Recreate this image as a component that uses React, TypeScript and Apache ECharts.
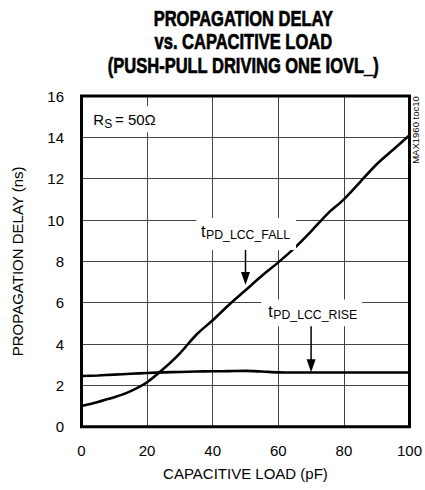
import React, { useEffect, useRef } from "react";
import * as echarts from "echarts";

const capLoad = [0, 5, 10, 15, 20, 25, 30, 35, 40, 45, 50, 55, 60, 65, 70, 75, 80, 85, 90, 95, 100];
const fallDelay = [1.0, 1.2, 1.42, 1.72, 2.15, 2.8, 3.55, 4.45, 5.15, 5.9, 6.6, 7.3, 7.95, 8.65, 9.45, 10.3, 11.0, 11.85, 12.7, 13.4, 14.1];
const riseDelay = [2.45, 2.48, 2.52, 2.56, 2.6, 2.63, 2.65, 2.67, 2.68, 2.69, 2.7, 2.67, 2.63, 2.62, 2.62, 2.62, 2.62, 2.62, 2.62, 2.62, 2.62];
const xTicks = { min: 0, max: 100, interval: 20 };
const yTicks = { min: 0, max: 16, interval: 2 };
const titleLines = ["PROPAGATION DELAY", "vs. CAPACITIVE LOAD", "(PUSH-PULL DRIVING ONE IOVL_)"];

const FONT = "'Liberation Sans', Arial, sans-serif";

export default function App() {
  const ref = useRef<HTMLDivElement>(null);
  useEffect(() => {
    const el = ref.current!;
    const chart = echarts.init(el, null, { renderer: "svg" });
    chart.setOption({
      animation: false,
      backgroundColor: "#fff",
      grid: { left: 81.5, right: 12.7, top: 96, bottom: 63.3, show: false },
      xAxis: {
        type: "value",
        ...xTicks,
        name: "CAPACITIVE LOAD (pF)",
        nameLocation: "middle",
        nameGap: 39.5,
        nameTextStyle: { fontFamily: FONT, fontSize: 15, color: "#000" },
        axisLine: { show: false },
        axisTick: { show: false },
        axisLabel: { fontFamily: FONT, fontSize: 15, color: "#000", margin: 16 },
        splitLine: { show: true, showMinLine: false, showMaxLine: false, lineStyle: { color: "#444", width: 1 } },
      },
      yAxis: {
        type: "value",
        ...yTicks,
        name: "PROPAGATION DELAY (ns)",
        nameLocation: "middle",
        nameGap: 56.5,
        nameTextStyle: { fontFamily: FONT, fontSize: 15, color: "#000" },
        axisLine: { show: false },
        axisTick: { show: false },
        axisLabel: { fontFamily: FONT, fontSize: 15, color: "#000", margin: 17.5 },
        splitLine: { show: true, showMinLine: false, showMaxLine: false, lineStyle: { color: "#444", width: 1 } },
      },
      series: [
        {
          type: "line",
          name: "fall",
          data: capLoad.map((x, i) => [x, fallDelay[i]]),
          smooth: 0.3,
          symbol: "none",
          lineStyle: { color: "#000", width: 2.6 },
          z: 3,
        },
        {
          type: "line",
          name: "rise",
          data: capLoad.map((x, i) => [x, riseDelay[i]]),
          smooth: 0.3,
          symbol: "none",
          lineStyle: { color: "#000", width: 2.6 },
          z: 3,
        },
      ],
    });

    const p = (x: number, y: number) => chart.convertToPixel({ gridIndex: 0 }, [x, y]) as number[];
    // text whose y is the cap-centre line
    const txt = (text: string, x: number, y: number, size: number, align: string, extra: any = {}, el: any = {}) => ({
      type: "text",
      x,
      y,
      z: 20,
      ...el,
      style: {
        text,
        fontFamily: FONT,
        fontSize: size,
        fill: "#000",
        align,
        textAlign: align,
        verticalAlign: "middle",
        textVerticalAlign: "middle",
        ...extra,
      },
    });
    const box = (x0: number, y0: number, x1: number, y1: number) => {
      const a = p(x0, y0);
      const b = p(x1, y1);
      return {
        type: "rect",
        z: 15,
        shape: { x: Math.min(a[0], b[0]), y: Math.min(a[1], b[1]), width: Math.abs(b[0] - a[0]), height: Math.abs(b[1] - a[1]) },
        style: { fill: "#fff" },
      };
    };
    const arrow = (x: number, yFrom: number, yTo: number) => {
      const a = p(x, yFrom);
      const b = p(x, yTo);
      return [
        { type: "line", z: 16, shape: { x1: a[0], y1: a[1], x2: b[0], y2: b[1] - 12 }, style: { stroke: "#000", lineWidth: 1.5 } },
        { type: "polygon", z: 16, shape: { points: [[b[0] - 4.5, b[1] - 13], [b[0] + 4.5, b[1] - 13], [b[0], b[1]]] }, style: { fill: "#000" } },
      ];
    };
    // subscript label: anchor = baseline point where "t" ends
    const subLabel = (main: string, sub: string, ax: number, ay: number, mainSize: number, subSize: number, drop: number) => {
      const a = p(ax, ay);
      return [
        txt(main, a[0], a[1] - 0.358 * mainSize, mainSize, "right"),
        txt(sub, a[0] + 0.5, a[1] + drop - 0.358 * subSize, subSize, "left"),
      ];
    };

    const tl = p(xTicks.min, yTicks.max);
    const br = p(xTicks.max, yTicks.min);
    const titleCx = 243.3;
    const titleCy = [17.9, 41.5, 65];

    const rs = p(6.86, 14.59);

    const graphic: any[] = [
      ...titleLines.map((t, i) =>
        txt(t, titleCx, titleCy[i], 22, "center", { fontWeight: "bold", stroke: "#000", lineWidth: 0.7 }, { scaleX: 0.75 })
      ),
      // RS label
      box(3.2, 15.5, 24.6, 14.25),
      txt("R", rs[0], rs[1] - 0.358 * 15, 15, "right"),
      txt("S", rs[0] + 0.2, rs[1] + 3.3 - 0.358 * 12, 12, "left"),
      txt("= 50Ω", rs[0] + 11, rs[1] - 0.358 * 15, 15, "left"),
      // fall label
      box(35, 10.1, 65.4, 8.55),
      ...subLabel("t", "PD_LCC_FALL", 37.8, 9.15, 16, 12.3, 2),
      ...arrow(50, 8.55, 6.85),
      // rise label
      box(54.8, 6.15, 85.6, 4.86),
      ...subLabel("t", "PD_LCC_RISE", 58.3, 5.31, 16, 12.3, 2.6),
      ...arrow(70, 4.86, 2.64),
      // plot border
      {
        type: "rect",
        z: 30,
        shape: { x: tl[0], y: tl[1], width: br[0] - tl[0], height: br[1] - tl[1] },
        style: { fill: "none", stroke: "#000", lineWidth: 3 },
      },
      // side note
      txt("MAX1960 toc10", br[0] + 6.5, tl[1] + 34, 9.5, "center", {}, { rotation: Math.PI / 2 }),
    ];
    chart.setOption({ graphic });
    return () => chart.dispose();
  }, []);
  return <div ref={ref} style={{ width: 425, height: 490, position: "absolute", left: 0, top: 0 }} />;
}
